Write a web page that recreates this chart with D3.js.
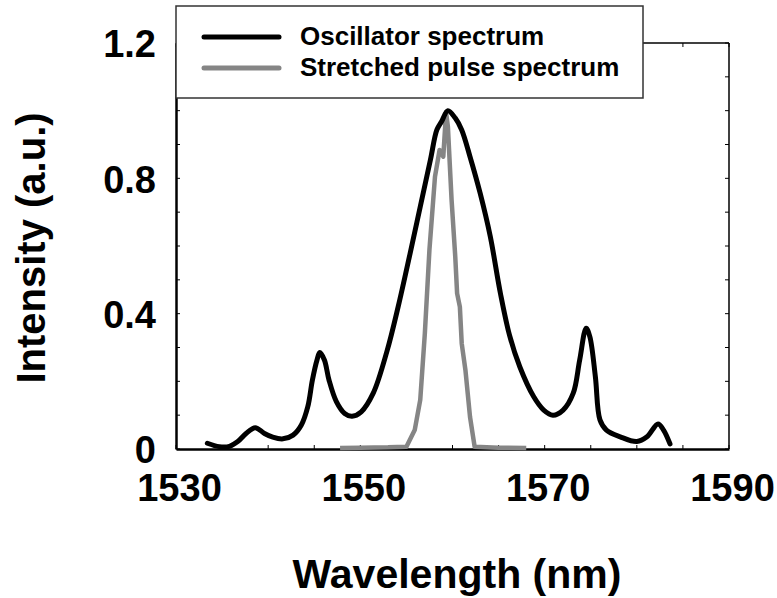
<!DOCTYPE html>
<html>
<head>
<meta charset="utf-8">
<script src="https://cdn.jsdelivr.net/npm/d3@7"></script>
<style>
  body { margin: 0; background: #fff; }
  text { font-family: "Liberation Sans", Arial, sans-serif; font-weight: bold; }
</style>
</head>
<body>
<svg width="777" height="598"></svg>
<script>
// oscillator spectrum (black)
const oscWl = [1533.4, 1534.7, 1535.8, 1536.7, 1537.6, 1538.6, 1539.6, 1540.5, 1541.6, 1542.7,
  1543.6, 1544.3, 1544.8, 1545.3, 1545.6, 1546.1, 1546.6, 1547.4, 1548.3, 1549.1,
  1550.1, 1551.4, 1552.9, 1554.1, 1555.4, 1556.5, 1557.6, 1558.3, 1558.8, 1559.5,
  1560.3, 1561.0, 1561.9, 1563.0, 1564.1, 1565.2, 1566.2, 1567.3, 1568.8, 1569.9,
  1570.9, 1572.0, 1573.1, 1573.8, 1574.5, 1574.9, 1575.5, 1576.0, 1576.7, 1578.2,
  1580.0, 1581.1, 1582.3, 1582.9, 1583.6];
const oscVal = [0.017, 0.007, 0.008, 0.022, 0.046, 0.063, 0.046, 0.035, 0.030, 0.041,
  0.071, 0.125, 0.204, 0.263, 0.285, 0.263, 0.204, 0.140, 0.105, 0.097,
  0.110, 0.165, 0.290, 0.420, 0.578, 0.716, 0.854, 0.943, 0.967, 1.000,
  0.978, 0.943, 0.864, 0.756, 0.628, 0.460, 0.335, 0.243, 0.155, 0.115,
  0.100, 0.115, 0.165, 0.263, 0.357, 0.332, 0.214, 0.086, 0.056, 0.036,
  0.022, 0.036, 0.074, 0.056, 0.015];

// stretched pulse spectrum (gray)
const strWl = [1547.8, 1550, 1553, 1555.0, 1555.9, 1556.5, 1557.0, 1557.5, 1558.1, 1558.6,
  1559.0, 1559.3, 1559.5, 1559.9, 1560.3, 1560.5, 1560.8, 1561.0, 1561.4, 1561.9,
  1562.4, 1565, 1568.0];
const strVal = [0.003, 0.004, 0.005, 0.007, 0.056, 0.145, 0.342, 0.590, 0.805, 0.884,
  0.864, 0.995, 0.953, 0.736, 0.568, 0.460, 0.420, 0.312, 0.234, 0.095,
  0.007, 0.004, 0.003];

const xTickVals = [1530, 1550, 1570, 1590];
const yTickVals = [0, 0.4, 0.8, 1.2];
const yTickLabels = ["0", "0.4", "0.8", "1.2"];
const legendNames = ["Oscillator spectrum", "Stretched pulse spectrum"];
const seriesColors = ["#000000", "#858585"];

const svg = d3.select("svg");
const plotL = 176, plotR = 729, plotT = 43, plotB = 449;

const x = d3.scaleLinear().domain([1530, 1590]).range([plotL, plotR]);
const y = d3.scaleLinear().domain([0, 1.2]).range([plotB, plotT]);

// frame
svg.append("line").attr("x1", plotR).attr("x2", plotR).attr("y1", plotT).attr("y2", plotB)
  .attr("stroke", "#000").attr("stroke-width", 1.5);
svg.append("line").attr("x1", plotL).attr("x2", plotR).attr("y1", plotT).attr("y2", plotT)
  .attr("stroke", "#000").attr("stroke-width", 1.5);

// minor ticks, inward
const minorX = d3.range(1530, 1591, 5);
const minorY = d3.range(0, 1.21, 0.1);
svg.append("g").selectAll("line").data(minorX).join("line")
  .attr("x1", d => x(d)).attr("x2", d => x(d))
  .attr("y1", plotB).attr("y2", plotB - 4)
  .attr("stroke", "#000").attr("stroke-width", 1);
svg.append("g").selectAll("line").data(minorX).join("line")
  .attr("x1", d => x(d)).attr("x2", d => x(d))
  .attr("y1", plotT).attr("y2", plotT + 4)
  .attr("stroke", "#000").attr("stroke-width", 1);
svg.append("g").selectAll("line").data(minorY).join("line")
  .attr("x1", plotL).attr("x2", plotL + 4)
  .attr("y1", d => y(d)).attr("y2", d => y(d))
  .attr("stroke", "#000").attr("stroke-width", 1);
svg.append("g").selectAll("line").data(minorY).join("line")
  .attr("x1", plotR).attr("x2", plotR - 4)
  .attr("y1", d => y(d)).attr("y2", d => y(d))
  .attr("stroke", "#000").attr("stroke-width", 1);

// axes
const xAxis = d3.axisBottom(x).tickValues(xTickVals).tickSize(0).tickPadding(25).tickFormat(d3.format("d"));
const gx = svg.append("g").attr("transform", `translate(0,${plotB})`).call(xAxis);
gx.select(".domain").attr("stroke", "#000").attr("stroke-width", 2.5);
gx.selectAll("text").attr("font-size", 38).attr("fill", "#000")
  .attr("font-family", "Liberation Sans, Arial, sans-serif").attr("font-weight", "bold")
  .attr("dx", 3);

const yAxis = d3.axisLeft(y).tickValues(yTickVals).tickSize(0).tickPadding(20)
  .tickFormat((d, i) => yTickLabels[i]);
const gy = svg.append("g").attr("transform", `translate(${plotL},0)`).call(yAxis);
gy.select(".domain").attr("stroke", "#000").attr("stroke-width", 2.5);
gy.selectAll("text").attr("font-size", 38).attr("fill", "#000")
  .attr("font-family", "Liberation Sans, Arial, sans-serif").attr("font-weight", "bold")
  .attr("dy", "0.36em");

// axis titles
svg.append("text").attr("x", 457).attr("y", 588).attr("text-anchor", "middle")
  .attr("font-size", 41).text("Wavelength (nm)");
svg.append("text").attr("transform", "translate(45,248) rotate(-90)")
  .attr("text-anchor", "middle").attr("font-size", 40).text("Intensity (a.u.)");

// curves
const osc = oscWl.map((w, i) => [w, oscVal[i]]);
const str = strWl.map((w, i) => [w, strVal[i]]);

svg.append("path").datum(str)
  .attr("fill", "none").attr("stroke", seriesColors[1]).attr("stroke-width", 4.5)
  .attr("stroke-linejoin", "round")
  .attr("d", d3.line().x(d => x(d[0])).y(d => y(d[1])));

svg.append("path").datum(osc)
  .attr("fill", "none").attr("stroke", seriesColors[0]).attr("stroke-width", 5)
  .attr("stroke-linecap", "round").attr("stroke-linejoin", "round")
  .attr("d", d3.line().curve(d3.curveCatmullRom).x(d => x(d[0])).y(d => y(d[1])));

// legend
const lg = svg.append("g");
lg.append("rect").attr("x", 176).attr("y", 6).attr("width", 467).attr("height", 92)
  .attr("fill", "#fff").attr("stroke", "#333").attr("stroke-width", 1.5);
legendNames.forEach((name, i) => {
  const ly = 37 + i * 31;
  lg.append("line").attr("x1", 204).attr("x2", 279).attr("y1", ly).attr("y2", ly)
    .attr("stroke", seriesColors[i]).attr("stroke-width", 5).attr("stroke-linecap", "round");
  lg.append("text").attr("x", 300).attr("y", ly + 8).attr("font-size", 26)
    .attr("fill", "#000").text(name);
});
</script>
</body>
</html>
